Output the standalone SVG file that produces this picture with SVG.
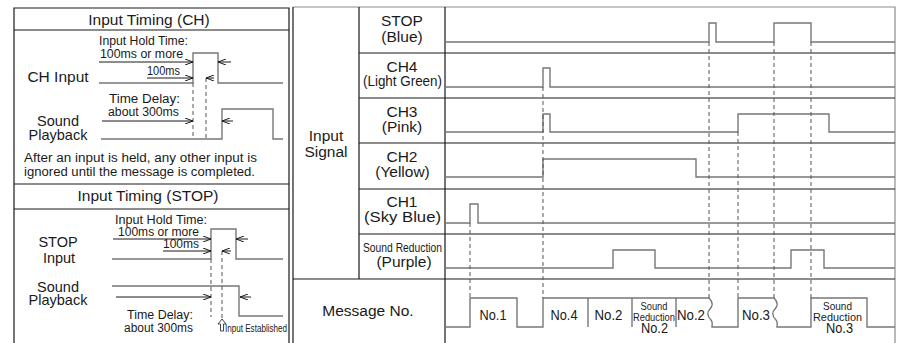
<svg xmlns="http://www.w3.org/2000/svg" width="901" height="343" viewBox="0 0 901 343">
<style>
text{font-family:"Liberation Sans",Arial,Helvetica,sans-serif;fill:#1a1a1a}
.t15{font-size:15.5px}
.t14{font-size:14.5px}
.t12{font-size:12px}
.t11{font-size:10.5px}
.t13{font-size:14px}
.m{text-anchor:middle}
.grid{stroke:#1a1a1a;stroke-width:1.2;fill:none}
.gframe{stroke:#8c8c8c;stroke-width:1.2;fill:none}
.sig{stroke:#777;stroke-width:1.4;fill:none}
.dash{stroke:#555;stroke-width:1;stroke-dasharray:4 3;fill:none}
.dim{stroke:#1a1a1a;stroke-width:1;fill:none;marker-end:url(#ah)}
</style>
<defs>
<marker id="ah" viewBox="0 0 8 6" refX="8" refY="3" markerWidth="8" markerHeight="6" markerUnits="userSpaceOnUse" orient="auto">
<path d="M0,0 L8,3 L0,6" fill="none" stroke="#1a1a1a" stroke-width="1"/>
</marker>
</defs>
<rect width="901" height="343" fill="#fff"/>

<!-- Left panel frame -->
<g id="left-frame">
<path class="grid" d="M14,343 V8 H289 V343"/>
<path class="grid" d="M14,30 H289 M14,184 H289 M14,209 H289"/>
</g>

<g id="panel-ch">
<text class="t15 m" x="149" y="24.5">Input Timing (CH)</text>
<text class="t12 m" x="143.5" y="44.5" textLength="89" lengthAdjust="spacingAndGlyphs">Input Hold Time:</text>
<text class="t12 m" x="141.5" y="57.5" textLength="83" lengthAdjust="spacingAndGlyphs">100ms or more</text>
<text class="t12 m" x="163.5" y="75" textLength="33" lengthAdjust="spacingAndGlyphs">100ms</text>
<text class="t15 m" x="58" y="82">CH Input</text>
<text class="t12 m" x="144.5" y="102.5" textLength="71" lengthAdjust="spacingAndGlyphs">Time Delay:</text>
<text class="t12 m" x="143.5" y="115.5" textLength="71" lengthAdjust="spacingAndGlyphs">about 300ms</text>
<text class="t14 m" x="58" y="125.5">Sound</text>
<text class="t14 m" x="58" y="139.5">Playback</text>
<text class="t12" x="24" y="162" textLength="233" lengthAdjust="spacingAndGlyphs">After an input is held, any other input is</text>
<text class="t12" x="24" y="176" textLength="231" lengthAdjust="spacingAndGlyphs">ignored until the message is completed.</text>
<path class="sig" d="M99,83 H193 V53 H218 V83 H283"/>
<path class="sig" d="M101,139 H222 V109 H273 V139 H283"/>
<path class="dash" d="M193,83 V138 M206,78 V138"/>
<line class="dim" x1="99" y1="62" x2="193" y2="62"/>
<line class="dim" x1="231" y1="62" x2="218" y2="62"/>
<line class="dim" x1="147" y1="78" x2="193" y2="78"/>
<line class="dim" x1="214" y1="78" x2="206" y2="78"/>
<line class="dim" x1="102" y1="121" x2="193" y2="121"/>
<line class="dim" x1="233" y1="121" x2="222" y2="121"/>
</g>

<g id="panel-stop">
<text class="t15 m" x="148" y="200.5">Input Timing (STOP)</text>
<text class="t12 m" x="161" y="223.5" textLength="92" lengthAdjust="spacingAndGlyphs">Input Hold Time:</text>
<text class="t12 m" x="158.5" y="235.5" textLength="81" lengthAdjust="spacingAndGlyphs">100ms or more</text>
<text class="t12 m" x="181" y="248" textLength="36" lengthAdjust="spacingAndGlyphs">100ms</text>
<text class="t14 m" x="58" y="247">STOP</text>
<text class="t14 m" x="59" y="262.5">Input</text>
<text class="t14 m" x="58" y="291.5">Sound</text>
<text class="t14 m" x="58" y="305">Playback</text>
<text class="t12 m" x="160" y="318.5" textLength="66" lengthAdjust="spacingAndGlyphs">Time Delay:</text>
<text class="t12 m" x="158.5" y="331.5" textLength="69" lengthAdjust="spacingAndGlyphs">about 300ms</text>
<path class="sig" d="M112,259 H211 V229 H236 V259 H283"/>
<path class="sig" d="M112,286 H239 V316 H283"/>
<path class="dash" d="M211,259 V317 M222,251 V318"/>
<line class="dim" x1="113" y1="239" x2="211" y2="239"/>
<line class="dim" x1="248" y1="239" x2="236" y2="239"/>
<line class="dim" x1="163" y1="251" x2="211" y2="251"/>
<line class="dim" x1="231" y1="251" x2="222" y2="251"/>
<line class="dim" x1="116" y1="297" x2="211" y2="297"/>
<line class="dim" x1="251" y1="297" x2="240" y2="297"/>
<path d="M222,319 L218,324 H220.5 V331 H223.5 V324 H226 Z" fill="#fff" stroke="#1a1a1a" stroke-width="0.8"/>
<text x="225" y="331.5" style="font-size:10px" textLength="62" lengthAdjust="spacingAndGlyphs">Input Established</text>
</g>

<!-- Right panel frame -->
<g id="right-frame">
<path class="gframe" d="M293,7 H895 V343"/>
<path class="grid" d="M293,7 V343 M359,7 V279 M445,7 V343"/>
<path class="grid" d="M359,53 H895 M359,98 H895 M359,143 H895 M359,189 H895 M359,234 H895 M293,279 H895"/>
</g>

<g id="label-input-signal">
<text class="t15 m" x="326" y="140.5">Input</text>
<text class="t15 m" x="326" y="156.5">Signal</text>
</g>
<g id="label-stop">
<text class="t15 m" x="402" y="26">STOP</text>
<text class="t15 m" x="402" y="41.5">(Blue)</text>
</g>
<g id="label-ch4">
<text class="t15 m" x="402" y="71.5">CH4</text>
<text class="t15 m" x="402.5" y="86" textLength="79" lengthAdjust="spacingAndGlyphs">(Light Green)</text>
</g>
<g id="label-ch3">
<text class="t15 m" x="402" y="116.5">CH3</text>
<text class="t15 m" x="402" y="131.5">(Pink)</text>
</g>
<g id="label-ch2">
<text class="t15 m" x="402" y="161.5">CH2</text>
<text class="t15 m" x="402.5" y="177">(Yellow)</text>
</g>
<g id="label-ch1">
<text class="t15 m" x="402" y="206.5">CH1</text>
<text class="t15 m" x="402.5" y="222" textLength="77" lengthAdjust="spacingAndGlyphs">(Sky Blue)</text>
</g>
<g id="label-sound-reduction">
<text class="m" x="402.5" y="252" style="font-size:13.5px" textLength="79" lengthAdjust="spacingAndGlyphs">Sound Reduction</text>
<text class="t15 m" x="404" y="267">(Purple)</text>
</g>
<g id="label-message">
<text class="t15 m" x="368" y="316">Message No.</text>
</g>

<g id="signals">
<path class="sig" d="M445,42 H709 V23 H716 V42 H774 V23 H811 V42 H895"/>
<path class="sig" d="M445,87 H543 V68 H550 V87 H895"/>
<path class="sig" d="M445,132 H543 V114 H550 V132 H738 V114 H829 V132 H895"/>
<path class="sig" d="M445,177 H543 V159 H696 V177 H895"/>
<path class="sig" d="M445,223 H470 V204 H478 V223 H895"/>
<path class="sig" d="M445,268 H613 V250 H655 V268 H791 V250 H824 V268 H895"/>
<path class="sig" d="M445,327 H470 V298 H517 V327 H543 V298 H709 C713,302 713,306 710,309 C707,312 707,316 711,320 C713,322 712,325 712,327 H738 V298 H774 C778,302 778,306 775,309 C772,312 772,316 776,320 C778,322 777,325 777,327 H811 V298 H867 V327 H895"/>
<path class="sig" d="M588,298 V327 M632,298 V327 M676,298 V327"/>
</g>

<g id="connectors">
<path class="dash" d="M470,223 V298 M543,87 V298 M709,42 V298 M738,132 V298 M774,42 V298 M811,42 V298"/>
</g>

<g id="messages">
<text class="t15 m" x="493" y="320" textLength="27" lengthAdjust="spacingAndGlyphs">No.1</text>
<text class="t15 m" x="564" y="320" textLength="27" lengthAdjust="spacingAndGlyphs">No.4</text>
<text class="t15 m" x="608.5" y="320" textLength="28" lengthAdjust="spacingAndGlyphs">No.2</text>
<text class="t11 m" x="654" y="309.5" textLength="27" lengthAdjust="spacingAndGlyphs">Sound</text>
<text class="t11 m" x="654" y="320.5" textLength="42" lengthAdjust="spacingAndGlyphs">Reduction</text>
<text class="t13 m" x="654.5" y="333" textLength="27" lengthAdjust="spacingAndGlyphs">No.2</text>
<text class="t15 m" x="691" y="320" textLength="28" lengthAdjust="spacingAndGlyphs">No.2</text>
<text class="t15 m" x="756" y="320" textLength="28" lengthAdjust="spacingAndGlyphs">No.3</text>
<text class="t11 m" x="837.5" y="309.5" textLength="29" lengthAdjust="spacingAndGlyphs">Sound</text>
<text class="t11 m" x="837.5" y="320.5" textLength="49" lengthAdjust="spacingAndGlyphs">Reduction</text>
<text class="t13 m" x="839.5" y="333" textLength="27" lengthAdjust="spacingAndGlyphs">No.3</text>
</g>
</svg>
